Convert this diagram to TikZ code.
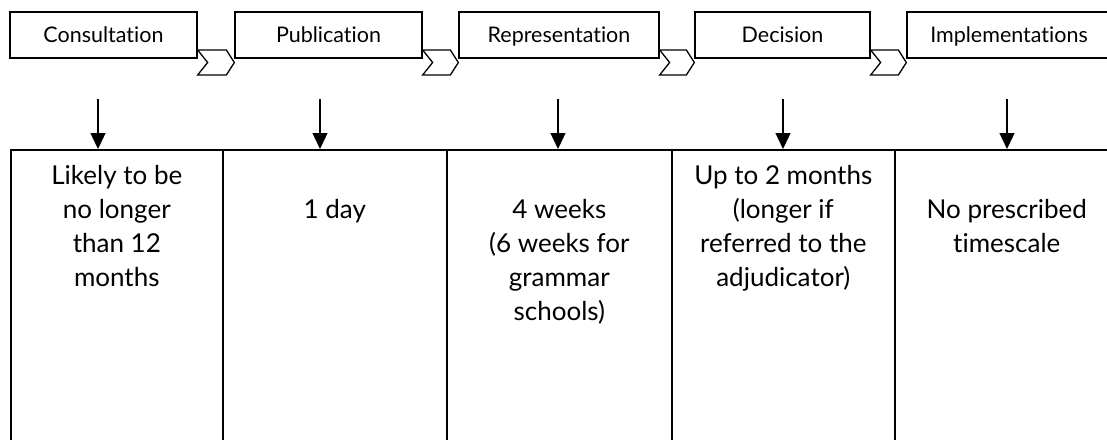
\documentclass[tikz,border=0pt]{standalone}
\usepackage{fontspec}
\setmainfont{Lato}[Ligatures=NoCommon]
\usetikzlibrary{arrows.meta, positioning, calc}

\begin{document}
\begin{tikzpicture}[x=1pt, y=-1pt,
    stage/.style={draw, line width=1.3pt, minimum height=46pt, inner sep=0pt, text height=18pt, text depth=4pt, font=\fontsize{21.5}{24}\selectfont},
    cell/.style={draw, line width=1.6pt, minimum height=330pt, anchor=north west, inner sep=0pt},
    info/.style={anchor=north, align=center, inner sep=0pt, font=\fontsize{26}{34}\selectfont},
    chev/.style={draw, line width=1.3pt, line join=miter},
    down/.style={line width=1.3pt, -{Triangle[width=15pt, length=16pt]}}]
    \clip (0,0) rectangle (1107,439);
    % stages along the top
    \node[stage, minimum width=187pt] (consult) at (103.5,35) {Consultation};
    \node[stage, minimum width=187pt] (publish) at (328.5,35) {Publication};
    \node[stage, minimum width=200pt] (repr) at (559,35) {Representation};
    \node[stage, minimum width=175pt] (decide) at (782.5,35) {Decision};
    \node[stage, minimum width=204pt] (implement) at (1009,35) {Implementations};
    % chevrons between the stages
    \foreach \a/\b in {consult/publish, publish/repr, repr/decide, decide/implement} {
        \draw[chev] (\a.east |- 0,50) -- ($(\b.west |- 0,50)+(-8,0)$) -- (\b.west |- 0,62.5)
            -- ($(\b.west |- 0,75)+(-8,0)$) -- (\a.east |- 0,75) -- ($(\a.east |- 0,62.5)+(10,0)$) -- cycle;
    }
    % table of timescales
    \foreach \n/\x/\w in {1/10/212, 2/222/224, 3/446/225, 4/671/223, 5/894/224} {
        \node[cell, minimum width=\w pt] (cell\n) at (\x,149) {};
    }
    \node[info] (time1) at ($(cell1.north)+(0,16)$) {Likely to be\\no longer\\than 12\\months};
    \node[info] (time2) at ($(cell2.north)+(0,50)$) {1 day};
    \node[info] (time3) at ($(cell3.north)+(0,50)$) {4 weeks\\(6 weeks for\\grammar\\schools)};
    \node[info] (time4) at ($(cell4.north)+(0,16)$) {Up to 2 months\\(longer if\\referred to the\\adjudicator)};
    \node[info] (time5) at ($(cell5.north)+(0,50)$) {No prescribed\\timescale};
    % arrows down into the table
    \foreach \n/\x in {1/98, 2/320, 3/558, 4/783, 5/1007} {
        \coordinate (top\n) at (\x,99);
        \draw[down] (top\n) -- (top\n |- cell\n.north);
    }
\end{tikzpicture}
\end{document}
